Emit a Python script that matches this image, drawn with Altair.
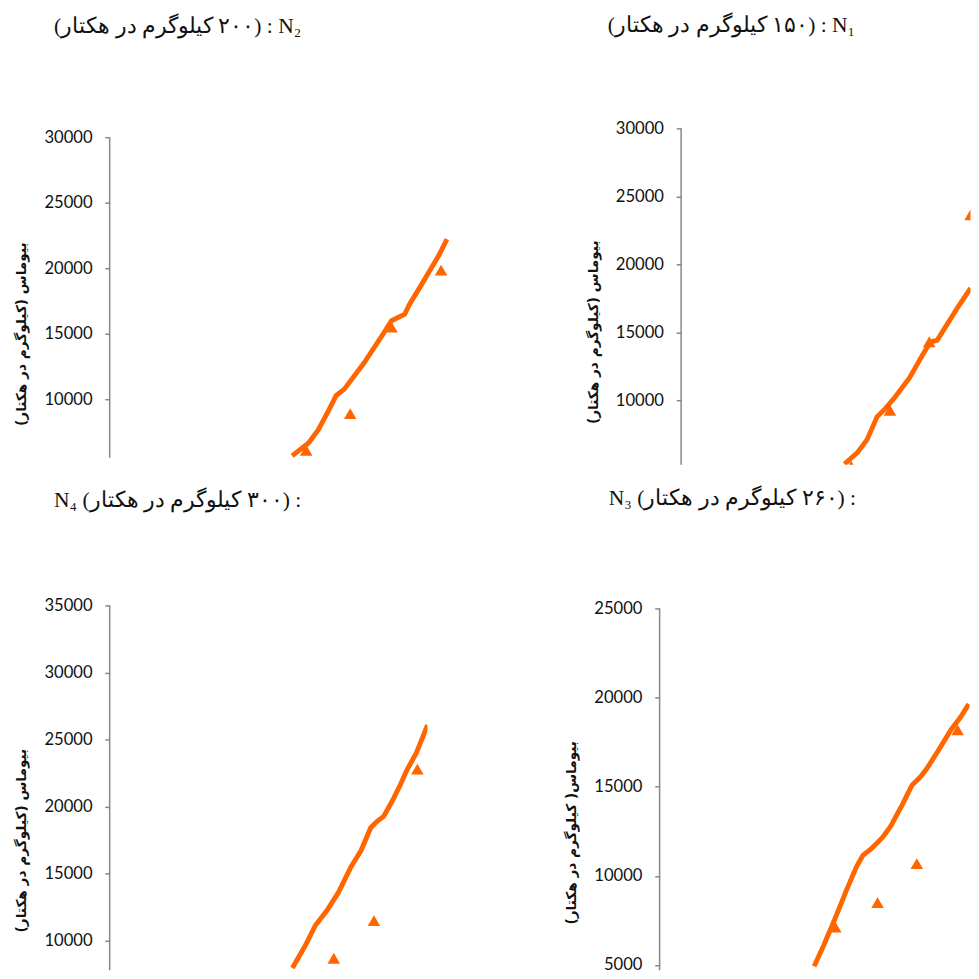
import altair as alt
import pandas as pd

ORANGE = "#FF6600"
AXIS_GRAY = "#868686"
TEXT = "#111111"

RLM = "\u200f"
Y_TITLE = RLM + "بیوماس (کیلوگرم در هکتار)" + RLM
Y_TITLE_N3 = RLM + "بیوماس( کیلوگرم در هکتار)" + RLM

# ---- N2 : 200 kg/ha (top-left)
n2_title = RLM + "(۲۰۰ کیلوگرم در هکتار)" + RLM + " : N₂"
n2_sim_day = [62.2, 67.8, 71.1, 74.4, 77.2, 80.0, 86.7, 93.3, 96.1, 100.6, 102.2, 105.6, 108.9, 112.2, 115.0]
n2_sim_bio = [5670, 6660, 7660, 9030, 10280, 10770, 12760, 15000, 15990, 16490, 17240, 18480, 19720, 20970, 22220]
n2_obs_day = [67.0, 82.0, 96.1, 113.0]
n2_obs_bio = [6100, 8900, 15500, 19850]
n2_ticks = [10000, 15000, 20000, 25000, 30000]

# ---- N1 : 150 kg/ha (top-right)
n1_title = RLM + "(۱۵۰ کیلوگرم در هکتار)" + RLM + " : N₁"
n1_sim_day = [55.7, 60.1, 63.4, 66.8, 69.6, 72.9, 77.9, 82.3, 85.1, 87.3, 90.1, 94.6, 98.7]
n1_sim_bio = [5300, 6140, 7100, 8780, 9380, 10220, 11660, 13330, 14300, 14410, 15380, 16930, 18250]
n1_obs_day = [58.0, 71.2, 84.6, 98.7]
n1_obs_bio = [5150, 9260, 14300, 23650]
n1_ticks = [10000, 15000, 20000, 25000, 30000]

# ---- N4 : 300 kg/ha (bottom-left)
n4_title = "N₄ " + RLM + "(۳۰۰ کیلوگرم در هکتار)" + RLM + " :"
n4_sim_day = [62.3, 66.8, 70.1, 74.0, 77.9, 82.3, 85.7, 89.0, 91.2, 93.4, 96.2, 99.0, 101.2, 104.6, 108.4]
n4_sim_bio = [7980, 9690, 11140, 12240, 13570, 15520, 16730, 18430, 18910, 19280, 20370, 21590, 22680, 24020, 26090]
n4_obs_day = [76.4, 90.1, 104.9]
n4_obs_bio = [8700, 11510, 22800]
n4_ticks = [10000, 15000, 20000, 25000, 30000, 35000]

# ---- N3 : 260 kg/ha (bottom-right)
n3_title = "N₃ " + RLM + "(۲۶۰ کیلوگرم در هکتار)" + RLM + " :"
n3_sim_day = [52.7, 56.0, 59.3, 63.8, 67.1, 69.3, 72.1, 76.0, 78.8, 82.7, 86.0, 88.8, 91.0, 94.9, 99.3, 102.7, 105.4]
n3_sim_bio = [4940, 6130, 7400, 9230, 10510, 11150, 11510, 12160, 12790, 13980, 15080, 15530, 15990, 17000, 18190, 18920, 19640]
n3_obs_day = [59.9, 74.3, 87.7, 101.6]
n3_obs_bio = [7130, 8500, 10690, 18190]
n3_ticks = [5000, 10000, 15000, 20000, 25000]


def panel(title, title_dx, title_offset, sim_day, sim_bio, obs_day, obs_bio,
          x_max, y_min, y_max, ticks, width, height, ytitle, ytitle_y, ytitle_x=-90):
    sim = pd.DataFrame({"day": sim_day, "bio": sim_bio})
    obs = pd.DataFrame({"day": obs_day, "bio": obs_bio})
    xs = alt.Scale(domain=[0, x_max], nice=False, zero=False)
    ys = alt.Scale(domain=[y_min, y_max], nice=False, zero=False)
    yaxis = alt.Axis(
        values=ticks, format="d", domain=False, grid=False,
        ticks=True, tickSize=5, tickColor=AXIS_GRAY, tickWidth=1.5,
        labelPadding=13, labelFont="Lato", labelFontSize=17, labelColor=TEXT,
        title=ytitle, titleFont="DejaVu Sans", titleFontSize=14, titleFontWeight="bold",
        titleColor=TEXT, titleAngle=270, titleAlign="center", titleBaseline="middle",
        titleX=ytitle_x, titleY=ytitle_y,
    )
    axis_df = pd.DataFrame({"x0": [0.0], "top": [ticks[-1]], "bottom": [y_min]})
    rule = alt.Chart(axis_df).mark_rule(color=AXIS_GRAY, strokeWidth=1.5).encode(
        x=alt.X("x0:Q", scale=xs, axis=None),
        y=alt.Y("top:Q", scale=ys, axis=yaxis),
        y2="bottom:Q",
    )
    line = alt.Chart(sim).mark_line(color=ORANGE, strokeWidth=5, clip=True).encode(
        x=alt.X("day:Q", scale=xs, axis=None),
        y=alt.Y("bio:Q", scale=ys),
    )
    pts = alt.Chart(obs).mark_point(shape="triangle-up", filled=True, size=165,
                                    color=ORANGE, opacity=1, clip=True).encode(
        x=alt.X("day:Q", scale=xs, axis=None),
        y=alt.Y("bio:Q", scale=ys),
    )
    return alt.layer(rule, line, pts).properties(
        width=width, height=height,
        title=alt.TitleParams(
            text=title, anchor="start", frame="group", align="center",
            dx=title_dx, offset=title_offset, baseline="alphabetic",
            font="Liberation Serif", fontSize=22, fontWeight="normal", color=TEXT,
        ),
    )


n2 = panel(n2_title, 69.5, 76, n2_sim_day, n2_sim_bio, n2_obs_day, n2_obs_bio,
           347 / 3, 5522, 30672, n2_ticks, 347, 337, Y_TITLE, 210)
n1 = panel(n1_title, 51.5, 67.5, n1_sim_day, n1_sim_bio, n1_obs_day, n1_obs_bio,
           296 / 3, 5253, 30000, n1_ticks, 296, 344, Y_TITLE, 208)
n4 = panel(n4_title, 69.5, 70, n4_sim_day, n4_sim_bio, n4_obs_day, n4_obs_bio,
           325 / 3, 7812, 35000, n4_ticks, 325, 373, Y_TITLE, 240)
n3 = panel(n3_title, 74.5, 74.5, n3_sim_day, n3_sim_bio, n3_obs_day, n3_obs_bio,
           317 / 3, 4716, 25164, n3_ticks, 317, 373, Y_TITLE_N3, 232)

row1 = alt.hconcat(n2, n1, spacing=237.5, bounds="flush")
row2 = alt.hconcat(n4, n3, spacing=237.5, bounds="flush")

chart = alt.vconcat(row1, row2, spacing=22).properties(
    padding={"left": 7, "top": -5, "right": 0, "bottom": 0},
    background="white",
).configure_view(strokeWidth=0)

chart.save("out.html", embed_options={"renderer": "svg", "actions": False})
